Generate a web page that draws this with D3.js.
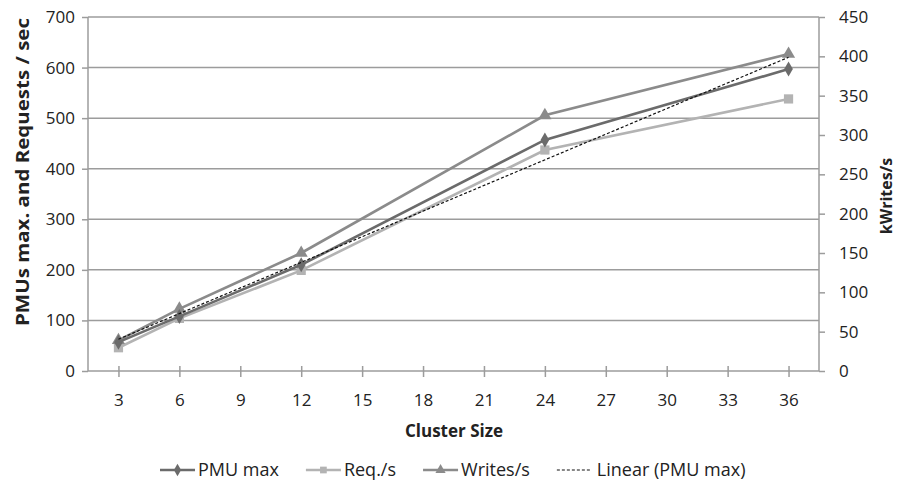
<!DOCTYPE html>
<html>
<head>
<meta charset="utf-8">
<script src="https://d3js.org/d3.v7.min.js"></script>
<style>
  body { margin: 0; background: #fff; }
  text { font-family: "Open Sans", Lato, sans-serif; fill: #222; }
</style>
</head>
<body>
<div id="container"></div>
<script>
var width = 898, height = 484;

// data
var clusterSize = [3, 6, 12, 24, 36];
var pmuMax = [57, 108, 210, 457, 597];
var reqPerSec = [46, 104, 199, 437, 538];
var kWrites = [39, 79, 150, 325, 403];   // right axis
var xTicks = [3, 6, 9, 12, 15, 18, 21, 24, 27, 30, 33, 36];
var leftTicks = [0, 100, 200, 300, 400, 500, 600, 700];
var rightTicks = [0, 50, 100, 150, 200, 250, 300, 350, 400, 450];

var colPmu = '#6b6b6b', colReq = '#b3b3b3', colWr = '#8b8b8b', colGrid = '#9c9c9c';

var plot = {left: 88, right: 819, top: 17, bottom: 371};

var x = d3.scaleLinear().domain([1.5, 37.5]).range([plot.left, plot.right]);
var yL = d3.scaleLinear().domain([0, 700]).range([plot.bottom, plot.top]);
var yR = d3.scaleLinear().domain([0, 450]).range([plot.bottom, plot.top]);

var svg = d3.select('#container').append('svg')
  .attr('width', width).attr('height', height);

// grid lines
svg.append('g').selectAll('line').data(leftTicks.slice(1)).enter().append('line')
  .attr('x1', plot.left).attr('x2', plot.right)
  .attr('y1', d => yL(d)).attr('y2', d => yL(d))
  .attr('stroke', colGrid).attr('stroke-width', 1.5);

// axes
var gL = svg.append('g').attr('transform', 'translate(' + plot.left + ',0)')
  .call(d3.axisLeft(yL).tickValues(leftTicks).tickSize(6).tickPadding(7));
var gR = svg.append('g').attr('transform', 'translate(' + plot.right + ',0)')
  .call(d3.axisRight(yR).tickValues(rightTicks).tickSize(6).tickPadding(14));
var gB = svg.append('g').attr('transform', 'translate(0,' + plot.bottom + ')')
  .call(d3.axisBottom(x).tickValues(xTicks).tickSize(6).tickPadding(17));

[gL, gR, gB].forEach(function(g) {
  g.select('.domain').attr('stroke', colGrid).attr('stroke-width', 1.5);
  g.selectAll('.tick line').attr('stroke', colGrid).attr('stroke-width', 1.5);
  g.selectAll('.tick text').style('font-size', '17px')
    .style('font-family', '"Open Sans", sans-serif').attr('fill', '#222');
});
gB.select('.domain').attr('d', 'M' + plot.left + ',0H' + plot.right);
gB.selectAll('.tick line').attr('y1', -5).attr('y2', 6);
gL.select('.domain').attr('d', 'M0,' + plot.bottom + 'V' + plot.top);
gR.select('.domain').attr('d', 'M0,' + plot.bottom + 'V' + plot.top);

// axis titles
svg.append('text').attr('transform', 'translate(29,172) rotate(-90)')
  .attr('text-anchor', 'middle').style('font-size', '17px').style('font-weight', 'bold')
  .attr('textLength', 308).attr('lengthAdjust', 'spacingAndGlyphs')
  .text('PMUs max. and Requests / sec');
svg.append('text').attr('transform', 'translate(892,196) rotate(-90)')
  .attr('text-anchor', 'middle').style('font-size', '16px').style('font-weight', 'bold')
  .text('kWrites/s');
svg.append('text').attr('x', 454).attr('y', 437)
  .attr('text-anchor', 'middle').style('font-size', '17px').style('font-weight', 'bold')
  .text('Cluster Size');

// series
var pts = function(vals) { return clusterSize.map((c, i) => [c, vals[i]]); };
var lineL = d3.line().x(d => x(d[0])).y(d => yL(d[1]));
var lineR = d3.line().x(d => x(d[0])).y(d => yR(d[1]));

// linear trendline (least squares fit of PMU max)
var mx = d3.mean(clusterSize), my = d3.mean(pmuMax);
var sxy = d3.sum(clusterSize, (c, i) => (c - mx) * (pmuMax[i] - my));
var sxx = d3.sum(clusterSize, c => (c - mx) * (c - mx));
var slope = sxy / sxx, icpt = my - slope * mx;
var trend = [3, 36].map(c => [c, icpt + slope * c]);

function series(vals, line, yScale, color, type, size) {
  var g = svg.append('g');
  g.append('path').attr('d', line(pts(vals)))
    .attr('fill', 'none').attr('stroke', color).attr('stroke-width', 2.6);
  g.selectAll('path.m').data(pts(vals)).enter().append('path').attr('class', 'm')
    .attr('d', d3.symbol().type(type).size(size)).attr('fill', color)
    .attr('transform', d => 'translate(' + x(d[0]) + ',' + yScale(d[1]) + ')');
}
series(reqPerSec, lineL, yL, colReq, d3.symbolSquare, 85);
series(kWrites, lineR, yR, colWr, d3.symbolTriangle, 75);
series(pmuMax, lineL, yL, colPmu, d3.symbolDiamond, 65);

svg.append('path').attr('d', lineL(trend))
  .attr('fill', 'none').attr('stroke', '#111').attr('stroke-width', 1.2)
  .attr('stroke-dasharray', '3,2');

// legend
var legendItems = [
  {name: 'PMU max', color: colPmu, type: d3.symbolDiamond},
  {name: 'Req./s', color: colReq, type: d3.symbolSquare},
  {name: 'Writes/s', color: colWr, type: d3.symbolTriangle},
  {name: 'Linear (PMU max)', color: '#111', type: null, dash: '3,2'}
];
var lg = svg.append('g');
var cx = 160;
legendItems.forEach(function(it) {
  var g = lg.append('g').attr('transform', 'translate(' + cx + ',470)');
  g.append('line').attr('x1', 0).attr('x2', 35).attr('y1', 0).attr('y2', 0)
    .attr('stroke', it.color).attr('stroke-width', it.dash ? 1.2 : 2.6)
    .attr('stroke-dasharray', it.dash || null);
  if (it.type) {
    g.append('path').attr('d', d3.symbol().type(it.type).size(45))
      .attr('transform', 'translate(17.5,0)').attr('fill', it.color);
  }
  var t = g.append('text').attr('x', it.dash ? 40 : 38).attr('y', 6)
    .style('font-size', '18px').text(it.name);
  cx += (it.dash ? 40 : 38) + t.node().getComputedTextLength() + 27;
});
</script>
</body>
</html>
